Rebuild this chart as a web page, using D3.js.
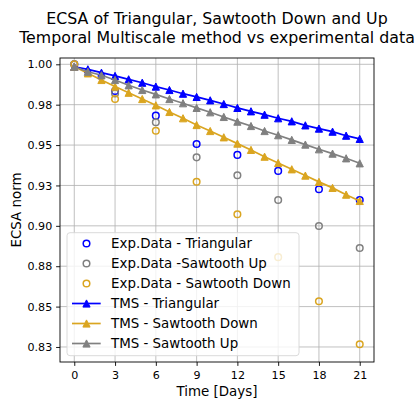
<!DOCTYPE html>
<html>
<head>
<meta charset="utf-8">
<script src="https://cdn.jsdelivr.net/npm/d3@7"></script>
<style>
    body { margin: 0; background: #fff; }
    svg { display: block; font-family: "DejaVu Sans", sans-serif; }
</style>
</head>
<body>
<svg id="chart" width="417" height="399"></svg>
<script>
'use strict';

// model curves, one point per day
const tms_days = [0, 1, 2, 3, 4, 5, 6, 7, 8, 9, 10, 11, 12, 13, 14, 15, 16, 17, 18, 19, 20, 21];
const tms_triangular = [0.9985, 0.9969, 0.9948, 0.9928, 0.9907, 0.9886, 0.9862, 0.9841, 0.9818, 0.9798, 0.9777,
    0.9754, 0.9730, 0.9709, 0.9688, 0.9666, 0.9647, 0.9622, 0.9602, 0.9583, 0.9558, 0.9538];
const tms_saw_down = [0.9985, 0.9944, 0.9903, 0.9862, 0.9824, 0.9785, 0.9746, 0.9705, 0.9666, 0.9624, 0.9587,
    0.9548, 0.9509, 0.9470, 0.9428, 0.9389, 0.9350, 0.9311, 0.9272, 0.9235, 0.9193, 0.9154];
const tms_saw_up = [0.9985, 0.9954, 0.9932, 0.9903, 0.9870, 0.9841, 0.9814, 0.9785, 0.9759, 0.9730, 0.9703,
    0.9674, 0.9645, 0.9618, 0.9587, 0.9561, 0.9532, 0.9503, 0.9474, 0.9447, 0.9418, 0.9387];

// measurements every 3 days
const exp_days = [0, 3, 6, 9, 12, 15, 18, 21];
const exp_triangular = [1.0, 0.9835, 0.9682, 0.9507, 0.9439, 0.9340, 0.9226, 0.9160];
const exp_saw_up = [1.0, 0.9820, 0.9641, 0.9424, 0.9313, 0.9160, 0.8999, 0.8863];
const exp_saw_down = [1.0, 0.9785, 0.9589, 0.9273, 0.9072, 0.8806, 0.8533, 0.8267];

const x_ticks = [0, 3, 6, 9, 12, 15, 18, 21];
const y_ticks = [0.825, 0.85, 0.875, 0.9, 0.925, 0.95, 0.975, 1.0];
const y_tick_labels = ['0.83', '0.85', '0.88', '0.90', '0.93', '0.95', '0.98', '1.00'];

const title_lines = ['ECSA of Triangular, Sawtooth Down and Up', 'Temporal Multiscale method vs experimental data'];

const blue = '#0000ff', gold = '#daa520', grey = '#808080';

const exp_series = [
    {label: 'Exp.Data - Triangular', values: exp_triangular, color: blue},
    {label: 'Exp.Data -Sawtooth Up', values: exp_saw_up, color: grey},
    {label: 'Exp.Data - Sawtooth Down', values: exp_saw_down, color: gold},
];
const tms_series = [
    {label: 'TMS - Triangular', values: tms_triangular, color: blue},
    {label: 'TMS - Sawtooth Down', values: tms_saw_down, color: gold},
    {label: 'TMS - Sawtooth Up', values: tms_saw_up, color: grey},
];

const box = {left: 60, right: 374, top: 58, bottom: 362};
const tick_len = 3.9, tick_pad = 3.9;
const marker_r = 3.3, tri_r = 3.6;

const svg = d3.select('#chart');

const x = d3.scaleLinear().domain([-1.05, 22.05]).range([box.left, box.right]);
const y = d3.scaleLinear().domain([0.8157, 1.0039]).range([box.bottom, box.top]);

const triangle = `M0,${-tri_r}L${-tri_r},${tri_r}L${tri_r},${tri_r}Z`;

// grid
const grid = svg.append('g').attr('class', 'grid')
    .attr('stroke', '#b0b0b0').attr('stroke-width', 0.8);
grid.selectAll('.gx').data(x_ticks).enter().append('line')
    .attr('x1', d => x(d)).attr('x2', d => x(d))
    .attr('y1', box.top).attr('y2', box.bottom);
grid.selectAll('.gy').data(y_ticks).enter().append('line')
    .attr('x1', box.left).attr('x2', box.right)
    .attr('y1', d => y(d)).attr('y2', d => y(d));

// axes
const x_axis = d3.axisBottom(x).tickValues(x_ticks).tickFormat(d3.format('d'))
    .tickSizeInner(tick_len).tickSizeOuter(0).tickPadding(tick_pad + 1);
const y_axis = d3.axisLeft(y).tickValues(y_ticks).tickFormat((d, i) => y_tick_labels[i])
    .tickSizeInner(tick_len).tickSizeOuter(0).tickPadding(tick_pad);

svg.append('g').attr('transform', `translate(0,${box.bottom})`).call(x_axis);
svg.append('g').attr('transform', `translate(${box.left},0)`).call(y_axis);
svg.selectAll('.domain').remove();
svg.selectAll('.tick line').attr('stroke', '#000').attr('stroke-width', 0.9);
svg.selectAll('.tick text').attr('fill', '#000').style('font-size', '11.1px')
    .style('font-family', '"DejaVu Sans", sans-serif');

// experimental points
exp_series.forEach(s => {
    svg.append('g').selectAll('circle').data(exp_days).enter().append('circle')
        .attr('cx', d => x(d))
        .attr('cy', (d, i) => y(s.values[i]))
        .attr('r', marker_r)
        .attr('fill', 'none')
        .attr('stroke', s.color)
        .attr('stroke-width', 1.5);
});

// model lines
const line = d3.line().x(d => x(d[0])).y(d => y(d[1]));
tms_series.forEach(s => {
    const pts = tms_days.map((d, i) => [d, s.values[i]]);
    svg.append('path').datum(pts)
        .attr('d', line)
        .attr('fill', 'none')
        .attr('stroke', s.color)
        .attr('stroke-width', 1.7);
    svg.append('g').selectAll('path').data(pts).enter().append('path')
        .attr('d', triangle)
        .attr('transform', d => `translate(${x(d[0])},${y(d[1])})`)
        .attr('fill', s.color)
        .attr('stroke', s.color)
        .attr('stroke-width', 1);
});

// spines
svg.append('rect')
    .attr('x', box.left).attr('y', box.top)
    .attr('width', box.right - box.left).attr('height', box.bottom - box.top)
    .attr('fill', 'none').attr('stroke', '#000').attr('stroke-width', 0.9);

// title and labels
svg.append('g').selectAll('text').data(title_lines).enter().append('text')
    .attr('x', 217).attr('y', (d, i) => 24 + i * 18.5)
    .attr('text-anchor', 'middle')
    .style('font-size', '15.8px')
    .text(d => d);

svg.append('text')
    .attr('x', (box.left + box.right) / 2).attr('y', 396)
    .attr('text-anchor', 'middle')
    .style('font-size', '13.4px')
    .text('Time [Days]');

svg.append('text')
    .attr('transform', `translate(21,${(box.top + box.bottom) / 2}) rotate(-90)`)
    .attr('text-anchor', 'middle')
    .style('font-size', '13.4px')
    .text('ECSA norm');

// legend
const legend = svg.append('g');
legend.append('rect')
    .attr('x', 67).attr('y', 232.7).attr('width', 232).attr('height', 123)
    .attr('rx', 3)
    .attr('fill', '#fff').attr('fill-opacity', 0.8)
    .attr('stroke', '#d6d6d6').attr('stroke-width', 0.9);

const entries = legend.selectAll('.entry').data(exp_series.concat(tms_series)).enter().append('g')
    .attr('class', 'entry')
    .attr('transform', (d, i) => `translate(0,${243.5 + i * 20})`);

entries.filter((d, i) => i < 3).append('circle')
    .attr('cx', 86.5).attr('cy', 0).attr('r', marker_r)
    .attr('fill', 'none').attr('stroke', d => d.color).attr('stroke-width', 1.5);

const tms_entries = entries.filter((d, i) => i >= 3);
tms_entries.append('line')
    .attr('x1', 72).attr('x2', 100.7).attr('y1', 0).attr('y2', 0)
    .attr('stroke', d => d.color).attr('stroke-width', 1.7);
tms_entries.append('path')
    .attr('d', triangle).attr('transform', 'translate(86.5,0)')
    .attr('fill', d => d.color).attr('stroke', d => d.color).attr('stroke-width', 1);

entries.append('text')
    .attr('x', 111).attr('y', 0).attr('dy', '0.36em')
    .style('font-size', '13.4px')
    .text(d => d.label);
</script>
</body>
</html>
